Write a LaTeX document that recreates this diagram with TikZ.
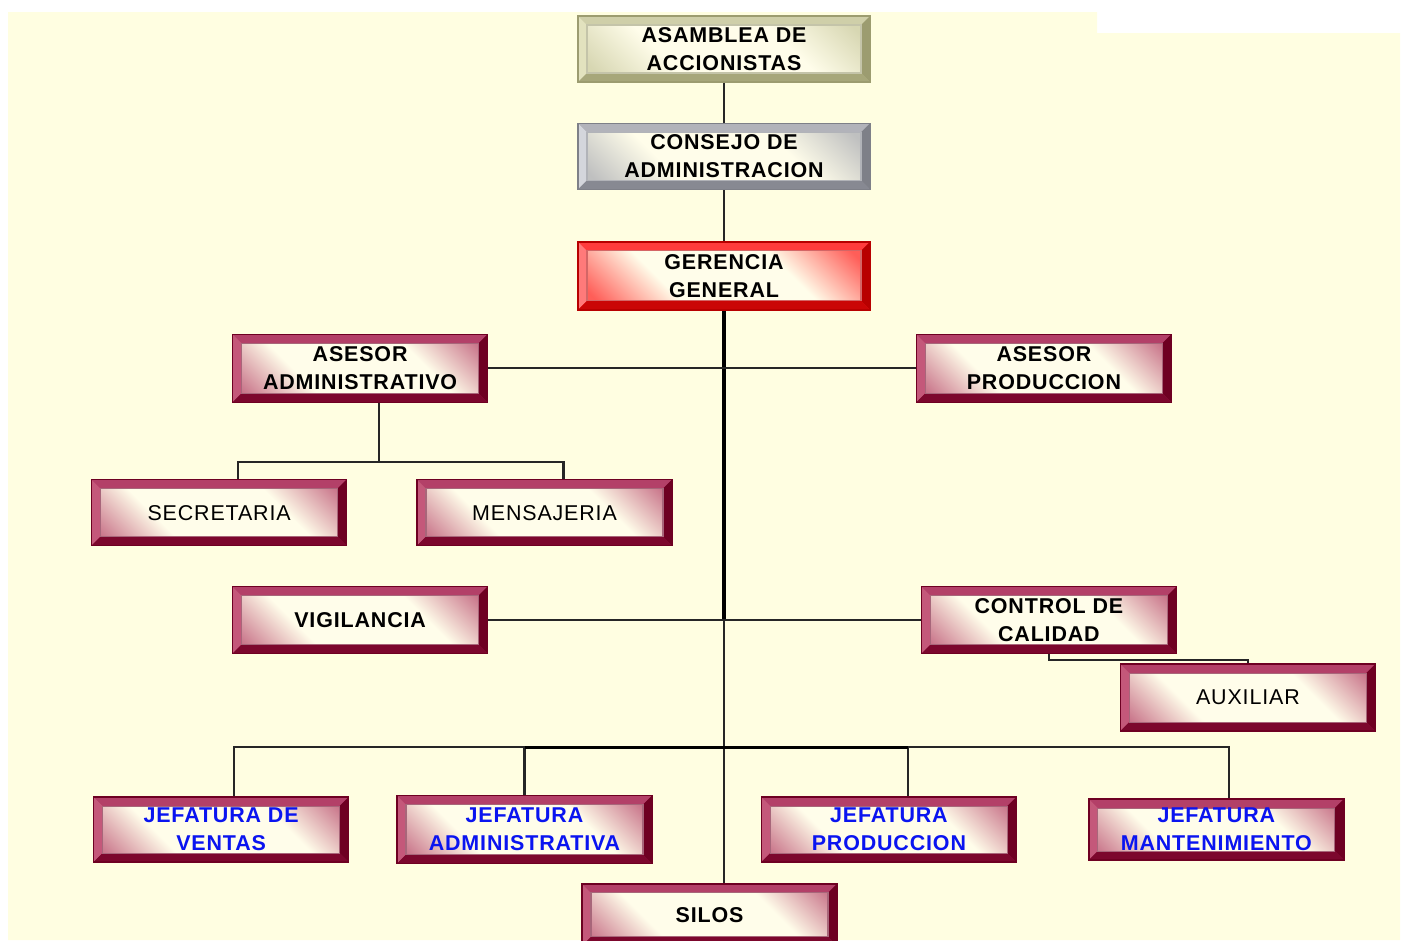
\documentclass[tikz,border=0pt]{standalone}
\usepackage{fontspec}
\newfontfamily\orgsans[LetterSpace=4]{Liberation Sans}
\usepackage{tikz}
\usetikzlibrary{positioning}
\usepackage{xcolor}
\definecolor{paper}{HTML}{FFFEE1}
\definecolor{inner}{HTML}{FFFDEA}
\definecolor{wine}{HTML}{A61E4D}
\definecolor{winelight}{HTML}{C4587A}
\definecolor{winedark}{HTML}{6E0022}
\definecolor{redframe}{HTML}{FF1A1A}
\definecolor{redlight}{HTML}{FF7A7A}
\definecolor{reddark}{HTML}{B80000}
\definecolor{grayframe}{HTML}{A4A6AE}
\definecolor{graylight}{HTML}{D4D6DC}
\definecolor{graydark}{HTML}{7E8088}
\definecolor{khaki}{HTML}{C6C69A}
\definecolor{khakilight}{HTML}{E2E2BE}
\definecolor{khakidark}{HTML}{9C9C70}
\definecolor{jefblue}{HTML}{0A14F0}
\colorlet{boxedge}{wine}
\colorlet{boxmid}{inner}
\pgfdeclarehorizontalshading[boxedge,boxmid]{boxshade}{100bp}{color(0bp)=(boxedge); color(32bp)=(boxedge); color(42bp)=(boxmid); color(58bp)=(boxmid); color(68bp)=(boxedge); color(100bp)=(boxedge)}
\newcommand{\bw}{0.09}
\newcommand{\unitfont}{\orgsans\fontsize{6.1}{8}\selectfont}
\tikzset{
  bevel/.style n args={4}{fill=#1, draw=#3, line width=0.4pt,
    path picture={
      \path (path picture bounding box.north west) coordinate (pnw)
            (path picture bounding box.north east) coordinate (pne)
            (path picture bounding box.south west) coordinate (psw)
            (path picture bounding box.south east) coordinate (pse)
            (path picture bounding box.center) coordinate (pc);
      \fill[#1!85!white] (pnw) -- (pne) -- ([shift={(-\bw,-\bw)}]pne) -- ([shift={(\bw,-\bw)}]pnw) -- cycle;
      \fill[#2] (pnw) -- (psw) -- ([shift={(\bw,\bw)}]psw) -- ([shift={(\bw,-\bw)}]pnw) -- cycle;
      \fill[#3] (pne) -- (pse) -- ([shift={(-\bw,\bw)}]pse) -- ([shift={(-\bw,-\bw)}]pne) -- cycle;
      \fill[#3!75!#1] (psw) -- (pse) -- ([shift={(-\bw,\bw)}]pse) -- ([shift={(\bw,\bw)}]psw) -- cycle;
      \colorlet{boxedge}{#1!70!inner}
      \begin{scope}
        \clip ([shift={(\bw,\bw)}]psw) rectangle ([shift={(-\bw,-\bw)}]pne);
        \shade[shading=boxshade, shading angle=45]
          ([shift={(-1.5,-1.5)}]pc) rectangle ([shift={(1.5,1.5)}]pc);
      \end{scope}
      \draw[#3!60, line width=0.3pt] ([shift={(\bw,\bw)}]psw) rectangle ([shift={(-\bw,-\bw)}]pne);
    }}
}
\tikzstyle{unit} = [
    rectangle, minimum width=2.55cm, minimum height=0.66cm, inner sep=0pt,
    align=center, font=\unitfont\bfseries
]
\tikzstyle{khakibox} = [unit, minimum width=2.92cm, bevel={khaki}{khakilight}{khakidark}{}]
\tikzstyle{graybox} = [unit, minimum width=2.92cm, bevel={grayframe}{graylight}{graydark}{}]
\tikzstyle{redbox} = [unit, minimum width=2.92cm, bevel={redframe}{redlight}{reddark}{}]
\tikzstyle{staff} = [unit, bevel={wine}{winelight}{winedark}{}]
\tikzstyle{plain} = [staff, font=\unitfont]
\tikzstyle{chief} = [staff, text=jefblue]
\tikzstyle{link} = [draw=black!85, line width=0.6pt]
\tikzstyle{trunk} = [draw=black, line width=1pt]

\begin{document}
\begin{tikzpicture}[node distance=0.5cm and 0.5cm]
    \useasboundingbox (0,0) rectangle (14.08,-9.40);
    \fill[paper] (0.08,-0.12) -- (10.97,-0.12) -- (10.97,-0.33) -- (14.00,-0.33)
        -- (14.00,-9.40) -- (0.08,-9.40) -- cycle;
    % Nodes
    \node[khakibox] (asamblea) at (7.24,-0.49) {ASAMBLEA DE\\ACCIONISTAS};
    \node[graybox, below=0.40cm of asamblea] (consejo) {CONSEJO DE\\ADMINISTRACION};
    \node[redbox, below=0.51cm of consejo, minimum height=0.68cm] (gerencia) {GERENCIA\\GENERAL};
    \node[staff, below left=0.23cm and 0.89cm of gerencia, minimum height=0.68cm] (asesoradm) {ASESOR\\ADMINISTRATIVO};
    \node[staff, below right=0.23cm and 0.45cm of gerencia, minimum height=0.68cm] (asesorprod) {ASESOR\\PRODUCCION};
    \node[plain, below=0.76cm of asesoradm, xshift=-1.41cm] (secretaria) {SECRETARIA};
    \node[plain, right=0.69cm of secretaria] (mensajeria) {MENSAJERIA};
    \node[staff, below=1.83cm of asesoradm, minimum height=0.67cm] (vigilancia) {VIGILANCIA};
    \node[staff, below=1.83cm of asesorprod, xshift=0.05cm, minimum height=0.67cm] (calidad) {CONTROL DE\\CALIDAD};
    \node[plain, below=0.09cm of calidad, xshift=1.99cm, minimum height=0.67cm] (auxiliar) {AUXILIAR};
    \node[chief, below=1.42cm of vigilancia, xshift=-1.39cm, minimum height=0.65cm] (ventas) {JEFATURA DE\\VENTAS};
    \node[chief, right=0.47cm of ventas, minimum height=0.68cm] (jefadm) {JEFATURA\\ADMINISTRATIVA};
    \node[chief, right=1.08cm of jefadm, minimum height=0.65cm] (jefprod) {JEFATURA\\PRODUCCION};
    \node[chief, right=0.71cm of jefprod, minimum height=0.61cm] (jefmant) {JEFATURA\\MANTENIMIENTO};
    \node[staff, below=0.19cm of jefadm, xshift=1.85cm, minimum height=0.62cm] (silos) {SILOS};
    % Lines
    \draw[link] (asamblea) -- (consejo);
    \draw[link] (consejo) -- (gerencia);
    \draw[trunk] (gerencia.south) -- (gerencia.south |- vigilancia);
    \draw[link] (gerencia.south |- vigilancia) -- (gerencia.south |- silos.north);
    \draw[link] (asesoradm) -- (asesorprod);
    \draw[link] (vigilancia) -- (calidad);
    \draw[link] ([xshift=0.19cm]asesoradm.south) -- ++(0,-0.59) coordinate (split) -| ([xshift=0.19cm]secretaria.north);
    \draw[link] (split) -| ([xshift=0.19cm]mensajeria.north);
    \draw[link] (calidad.south) -- ++(0,-0.06) -| (auxiliar.north);
    \coordinate (bus) at ([shift={(0.13,0.49)}]ventas.north);
    \coordinate (pdrop) at ([xshift=0.19cm]jefprod.north);
    \draw[link] ([xshift=0.13cm]ventas.north) -- (bus) -| ([xshift=0.13cm]jefmant.north);
    \draw[link] (jefadm.north) -- (jefadm.north |- bus);
    \draw[link] (pdrop) -- (pdrop |- bus);
    \draw[trunk] (jefadm.north |- bus) -- (pdrop |- bus);
\end{tikzpicture}
\end{document}
